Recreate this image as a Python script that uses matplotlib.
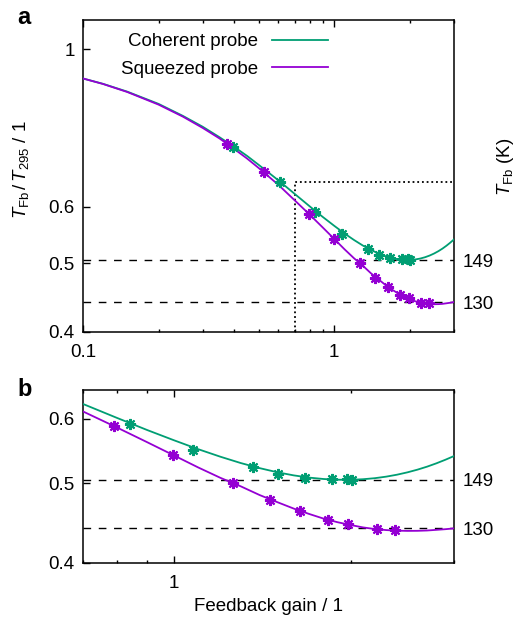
import numpy as np
import matplotlib
matplotlib.use('Agg')
import matplotlib.pyplot as plt
from matplotlib.ticker import FixedLocator, NullFormatter, NullLocator

plt.rcParams['font.family'] = ['Liberation Sans', 'DejaVu Sans']
plt.rcParams['mathtext.fontset'] = 'custom'
plt.rcParams['mathtext.rm'] = 'Liberation Sans'
plt.rcParams['mathtext.it'] = 'Liberation Sans:italic'
plt.rcParams['font.size'] = 13.5

# fitted curves
gain = [0.1, 0.12, 0.15, 0.2, 0.25, 0.3, 0.35, 0.4, 0.45, 0.5, 0.6, 0.7, 0.8, 0.9,
        1.0, 1.1, 1.2, 1.3, 1.4, 1.5, 1.6, 1.7, 1.8, 1.9, 2.0, 2.1, 2.2, 2.3,
        2.4, 2.5, 2.6, 2.7, 2.8, 2.9, 3.0]
coherent_fit = [0.910, 0.8945, 0.872, 0.838, 0.806, 0.778, 0.752, 0.729, 0.708, 0.688,
                0.654, 0.625, 0.601, 0.581, 0.5645, 0.5505, 0.539, 0.5295, 0.522, 0.516,
                0.5115, 0.5083, 0.5063, 0.5053, 0.5052, 0.506, 0.5075, 0.5097, 0.5125,
                0.5159, 0.5198, 0.5242, 0.5291, 0.5344, 0.540]
squeezed_fit = [0.910, 0.894, 0.871, 0.836, 0.804, 0.775, 0.749, 0.724, 0.702, 0.681,
                0.6445, 0.612, 0.585, 0.5615, 0.541, 0.523, 0.508, 0.496, 0.484, 0.4745,
                0.466, 0.459, 0.453, 0.4485, 0.445, 0.442, 0.440, 0.4387, 0.438, 0.4377,
                0.4378, 0.4382, 0.439, 0.4398, 0.4408]

# measured points
coherent_gain = [0.397, 0.609, 0.842, 1.079, 1.366, 1.506, 1.672, 1.862, 1.969, 2.009]
coherent_temp = [0.729, 0.651, 0.591, 0.550, 0.523, 0.514, 0.508, 0.506, 0.506, 0.505]
squeezed_gain = [0.374, 0.526, 0.792, 0.995, 1.263, 1.458, 1.640, 1.828, 1.982, 2.216, 2.381]
squeezed_temp = [0.735, 0.671, 0.587, 0.541, 0.500, 0.477, 0.463, 0.451, 0.446, 0.440, 0.439]

# reference temperatures
t_room = 295.0
t_min_K = [149, 130]
zoom_gain = 0.7
zoom_ratio = 0.65

green = '#009e73'
purple = '#9400d3'

fig = plt.figure(figsize=(5.18, 6.21), dpi=100)
ax_a = fig.add_axes([0.1602, 0.4654, 0.7162, 0.5024])
ax_b = fig.add_axes([0.1602, 0.0934, 0.7162, 0.2786])


def style(ax, xmajor, xminor, xlim, ylim, yticks):
    ax.set_xscale('log')
    ax.set_yscale('log')
    ax.set_xlim(*xlim)
    ax.set_ylim(*ylim)
    ax.xaxis.set_major_locator(FixedLocator(xmajor))
    ax.set_xticklabels([('%g' % v) for v in xmajor])
    ax.xaxis.set_minor_locator(FixedLocator(xminor))
    ax.xaxis.set_minor_formatter(NullFormatter())
    ax.yaxis.set_major_locator(FixedLocator(yticks))
    ax.set_yticklabels([('%g' % v) for v in yticks])
    ax.yaxis.set_minor_locator(NullLocator())
    ax.tick_params(axis='x', which='both', direction='in', top=True, pad=9)
    ax.tick_params(axis='y', which='both', direction='in', right=False, pad=6)
    ax.tick_params(which='major', length=5, width=1)
    ax.tick_params(which='minor', length=2.5, width=1)
    for sp in ax.spines.values():
        sp.set_linewidth(1.1)
    for r in t_min_K:
        ax.axhline(r / t_room, color='black', lw=1, dashes=(5.5, 5.5), zorder=1)
    ax.plot(gain, coherent_fit, color=green, lw=1.3, label='Coherent probe', zorder=3)
    ax.plot(gain, squeezed_fit, color=purple, lw=1.3, label='Squeezed probe', zorder=3)
    ax.plot(coherent_gain, coherent_temp, ls='none', marker=(8, 2, 0), ms=8, mew=1.5,
            color=green, zorder=4)
    ax.plot(squeezed_gain, squeezed_temp, ls='none', marker=(8, 2, 0), ms=8, mew=1.5,
            color=purple, zorder=4)
    tw = ax.twinx()
    tw.set_yscale('log')
    tw.set_ylim(*ylim)
    tw.yaxis.set_major_locator(FixedLocator([r / t_room for r in t_min_K]))
    tw.set_yticklabels([str(r) for r in t_min_K])
    tw.yaxis.set_minor_locator(NullLocator())
    tw.tick_params(axis='y', length=0, pad=6)
    for sp in tw.spines.values():
        sp.set_visible(False)
    return tw


tw_a = style(ax_a, [0.1, 1], [0.2, 0.3, 0.4, 0.5, 0.6, 0.7, 0.8, 0.9, 2, 3],
             (0.1, 3), (0.4, 1.1), [0.4, 0.5, 0.6, 1])
tw_b = style(ax_b, [1], [0.7, 0.8, 0.9, 2, 3],
             (zoom_gain, 3), (0.4, zoom_ratio), [0.4, 0.5, 0.6])

# zoom region marker
ax_a.plot([zoom_gain, zoom_gain, 3], [0.4, zoom_ratio, zoom_ratio], color='black',
          lw=1.3, ls=(0, (1, 1.6)), zorder=2)

ax_a.set_ylabel(r'$T_{\mathrm{Fb}}\,/\,T_{295}$ / 1')
ax_a.yaxis.set_label_coords(-0.14, 0.52)
tw_a.set_ylabel(r'$T_{\mathrm{Fb}}$ (K)')
tw_a.yaxis.set_label_coords(1.11, 0.53)
ax_b.set_xlabel('Feedback gain / 1', labelpad=4)

ax_a.legend(loc='upper left', bbox_to_anchor=(121 / 518, 1 - 33 / 621),
            bbox_transform=fig.transFigure, markerfirst=False, frameon=False,
            handlelength=3.0, handletextpad=0.75, labelspacing=0.55,
            borderpad=0, borderaxespad=0)

fig.text(17 / 518, 1 - 6 / 621, 'a', fontsize=17, fontweight='bold', va='top')
fig.text(17 / 518, 1 - 378 / 621, 'b', fontsize=17, fontweight='bold', va='top')

fig.savefig('out.png', dpi=100)
